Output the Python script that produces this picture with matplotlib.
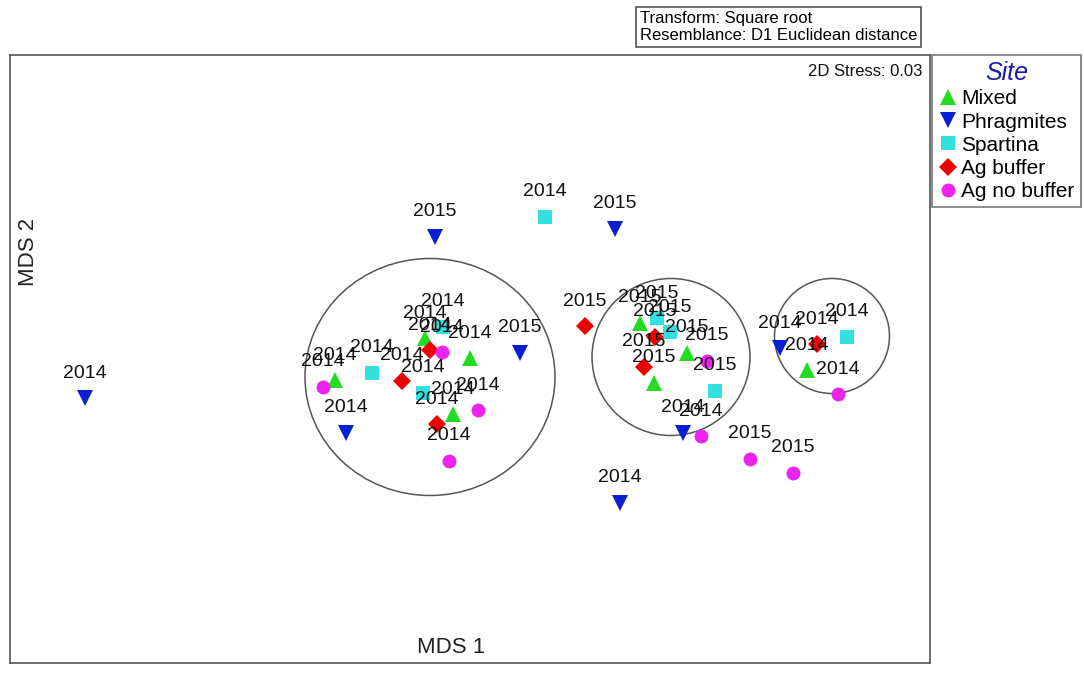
import matplotlib.pyplot as plt
from matplotlib.patches import Ellipse

plt.rcParams['font.family'] = ['Liberation Sans', 'DejaVu Sans']

# MDS coordinates, with sampling year labels
mixed_x = [-0.45, 0.00, -1.35, -0.17, 1.70, 2.17, 1.84, 3.37]
mixed_y = [0.42, 0.22, 0.00, -0.34, 0.57, 0.27, -0.03, 0.10]
mixed_yr = ["2014", "2014", "2014", "2014", "2015", "2015", "2015", "2014"]

phrag_x = [-3.85, -0.35, 1.45, 0.50, -1.24, 1.50, 2.13, 3.10]
phrag_y = [-0.18, 1.43, 1.51, 0.27, -0.53, -1.23, -0.53, 0.32]
phrag_yr = ["2014", "2015", "2015", "2015", "2014", "2014", "2014", "2014"]

spart_x = [0.75, -0.27, -0.98, -0.47, 1.87, 2.00, 2.45, 3.77]
spart_y = [1.63, 0.53, 0.07, -0.13, 0.62, 0.48, -0.11, 0.43]
spart_yr = ["2014", "2014", "2014", "2014", "2015", "2015", "2015", "2014"]

agbuf_x = [1.15, -0.40, -0.68, -0.33, 1.85, 1.74, 3.47]
agbuf_y = [0.54, 0.30, -0.01, -0.44, 0.43, 0.13, 0.36]
agbuf_yr = ["2015", "2014", "2014", "2014", "2015", "2015", "2014"]

agnob_x = [-0.28, -1.47, 0.08, -0.21, 2.37, 2.31, 2.80, 3.23, 3.68]
agnob_y = [0.28, -0.07, -0.30, -0.81, 0.19, -0.56, -0.79, -0.93, -0.14]
agnob_yr = ["2014", "2014", "2014", "2014", "2015", "2014", "2015", "2015", "2014"]

# cluster outlines: centre x, centre y, width, height
clusters = [(-0.40, 0.03, 2.50, 2.37), (2.01, 0.23, 1.58, 1.57), (3.62, 0.44, 1.15, 1.15)]

groups = [
    ("Mixed", mixed_x, mixed_y, mixed_yr, "^", "#22dd22", 11),
    ("Phragmites", phrag_x, phrag_y, phrag_yr, "v", "#0a1ed2", 11),
    ("Spartina", spart_x, spart_y, spart_yr, "s", "#33e0e0", 10),
    ("Ag buffer", agbuf_x, agbuf_y, agbuf_yr, "D", "#ee0000", 9),
    ("Ag no buffer", agnob_x, agnob_y, agnob_yr, "o", "#ee22ee", 10),
]

fig = plt.figure(figsize=(10.84, 6.73), dpi=100)
ax = fig.add_axes([10 / 1084, 10 / 673, 920 / 1084, 608 / 673])
ax.set_xlim(-4.60, 4.60)
ax.set_ylim(-2.83, 3.25)
ax.set_xticks([])
ax.set_yticks([])
for s in ax.spines.values():
    s.set_color("#555555")
    s.set_linewidth(1.2)

for cx, cy, w, h in clusters:
    ax.add_patch(Ellipse((cx, cy), w, h, fill=False, edgecolor="#555555", lw=1.1))

for name, xs, ys, yrs, mk, col, ms in groups:
    ax.plot(xs, ys, linestyle="none", marker=mk, color=col, markersize=ms,
            markeredgewidth=0, label=name, zorder=3)
for name, xs, ys, yrs, mk, col, ms in groups:
    for x, y, t in zip(xs, ys, yrs):
        ax.annotate(t, (x, y), xytext=(0, 18), textcoords="offset points",
                    ha="center", va="center", fontsize=14, color="#111111", zorder=4)

ax.text(0.48, 0.025, "MDS 1", transform=ax.transAxes, ha="center", va="center",
        fontsize=16, color="#222222")
ax.text(0.02, 0.676, "MDS 2", transform=ax.transAxes, ha="center", va="center",
        rotation=90, fontsize=16, color="#222222")
ax.text(0.992, 0.985, "2D Stress: 0.03", transform=ax.transAxes, ha="right", va="top",
        fontsize=12, color="#111111")

fig.text(640 / 1084, 1 - 27 / 673, "Transform: Square root\nResemblance: D1 Euclidean distance",
         ha="left", va="center", fontsize=12, linespacing=1.25,
         bbox=dict(boxstyle="square,pad=0.22", facecolor="white", edgecolor="#444444", lw=1.1))

leg = fig.legend(loc="upper left", bbox_to_anchor=(932 / 1084, 1 - 55 / 673),
                 borderaxespad=0, frameon=True, fancybox=False, fontsize=15,
                 handletextpad=0.2, handlelength=0.9, labelspacing=0.2,
                 borderpad=0.3, title="Site", title_fontsize=18)
leg.get_frame().set_edgecolor("#555555")
leg.get_frame().set_linewidth(1.2)
leg.get_title().set_style("italic")
leg.get_title().set_color("#1a1aa8")

fig.savefig("out.png", dpi=100)
